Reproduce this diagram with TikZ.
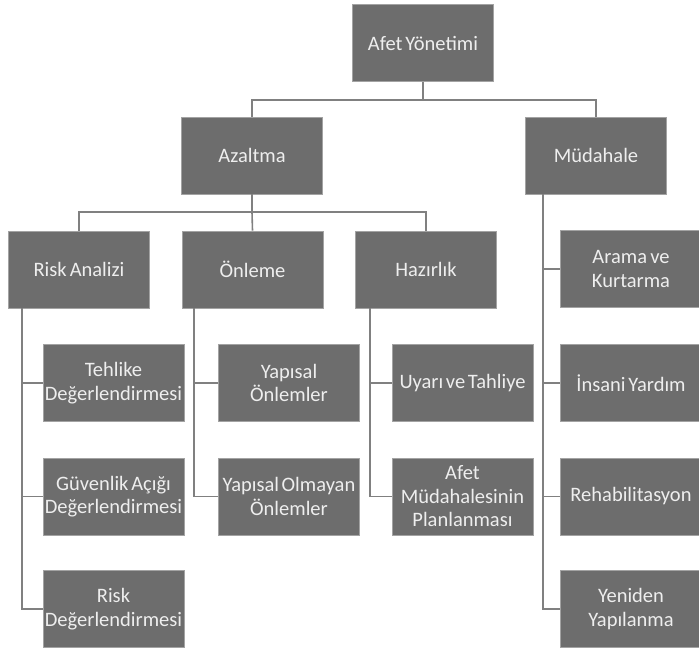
\documentclass[tikz,border=0pt]{standalone}
\usepackage{fontspec}
\setmainfont{Carlito}
\usetikzlibrary{positioning,calc}
\definecolor{kutugri}{HTML}{6D6D6D}
\definecolor{kenargri}{HTML}{A3A3A3}
\definecolor{cizgigri}{HTML}{808080}
\definecolor{yazigri}{HTML}{EEEEEE}
\newcommand\darbosluk{\spaceskip=0.12em plus 0.05em\relax}
\begin{document}
\begin{tikzpicture}[x=1pt,y=-1pt,
  kutu/.style={rectangle,fill=kutugri,draw=kenargri,line width=0.8pt,text=yazigri,
    minimum width=141pt,minimum height=77pt,text width=141pt,inner xsep=0pt,
    align=center,font=\fontsize{20.5}{23.5}\selectfont,
    execute at begin node=\darbosluk},
  bag/.style={draw=cizgigri,line width=1.6pt}]
  \useasboundingbox (0,0) rectangle (699,651);
  \node[kutu] (afet) at (423,43) {Afet Yönetimi};
  \node[kutu] (azaltma) at (252,155.5) {Azaltma};
  \node[kutu] (mudahale) at (596,155.5) {Müdahale};
  \node[kutu] (risk) at (79,269.5) {Risk Analizi};
  \node[kutu] (onleme) at (252.5,269.5) {Önleme};
  \node[kutu] (hazirlik) at (426,269.5) {Hazırlık};
  \node[kutu] (tehlike) at (113.5,383) {Tehlike\\Değerlendirmesi};
  \node[kutu] (guvenlik) at (113.5,496.5) {Güvenlik Açığı\\Değerlendirmesi};
  \node[kutu] (riskdeg) at (113.5,609) {Risk\\Değerlendirmesi};
  \node[kutu] (yapisal) at (289,383) {Yapısal\\Önlemler};
  \node[kutu] (olmayan) at (289,496.5) {Yapısal Olmayan\\Önlemler};
  \node[kutu] (uyari) at (462.5,383) {Uyarı ve Tahliye};
  \node[kutu] (plan) at (462.5,496.5) {Afet\\Müdahalesinin\\Planlanması};
  \node[kutu] (arama) at (631,269) {Arama ve\\Kurtarma};
  \node[kutu] (insani) at (631,383) {İnsani Yardım};
  \node[kutu] (rehab) at (631,496.5) {Rehabilitasyon};
  \node[kutu] (yeniden) at (631,609) {Yeniden\\Yapılanma};
  % ara cizgiler
  \coordinate (ust) at (0,100);
  \coordinate (orta) at (0,212);
  \coordinate (rk) at (22,0);
  \coordinate (ok) at (194,0);
  \coordinate (hk) at (370,0);
  \coordinate (mk) at (543,0);
  \draw[bag] (afet.south) -- (afet.south |- ust) -| (azaltma.north);
  \draw[bag] (afet.south |- ust) -| (mudahale.north);
  \draw[bag] (azaltma.south) -- (azaltma.south |- orta) -| (risk.north);
  \draw[bag] (azaltma.south |- orta) -- (onleme.north);
  \draw[bag] (azaltma.south |- orta) -| (hazirlik.north);
  \draw[bag] (risk.south -| rk) |- (tehlike.west);
  \draw[bag] (risk.south -| rk) |- (guvenlik.west);
  \draw[bag] (risk.south -| rk) |- (riskdeg.west);
  \draw[bag] (onleme.south -| ok) |- (yapisal.west);
  \draw[bag] (onleme.south -| ok) |- (olmayan.west);
  \draw[bag] (hazirlik.south -| hk) |- (uyari.west);
  \draw[bag] (hazirlik.south -| hk) |- (plan.west);
  \draw[bag] (mudahale.south -| mk) |- (arama.west);
  \draw[bag] (mudahale.south -| mk) |- (insani.west);
  \draw[bag] (mudahale.south -| mk) |- (rehab.west);
  \draw[bag] (mudahale.south -| mk) |- (yeniden.west);
\end{tikzpicture}
\end{document}
